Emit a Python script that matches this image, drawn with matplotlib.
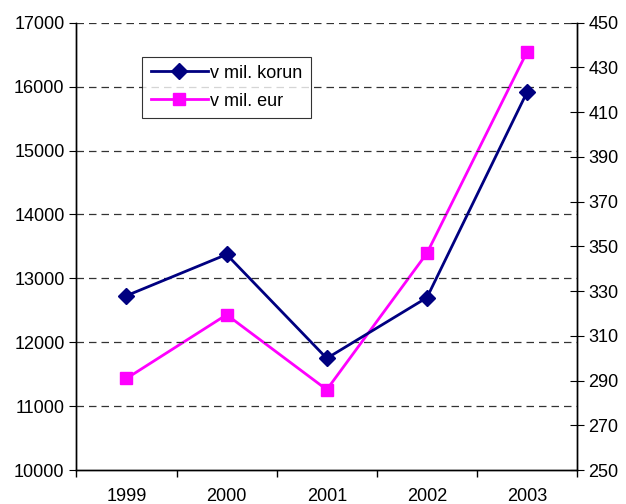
import matplotlib.pyplot as plt
from matplotlib.ticker import MultipleLocator, FixedLocator, NullFormatter

plt.rcParams['font.family'] = ['Liberation Sans', 'DejaVu Sans']

years = ['1999', '2000', '2001', '2002', '2003']
korun = [12730, 13375, 11750, 12700, 15915]
eur = [291, 319.5, 286, 347, 437]
eur_ticks = list(range(250, 451, 20))

fig = plt.figure(figsize=(6.26, 5.04), dpi=100)
ax = fig.add_axes([0.122, 0.067, 0.800, 0.888])
ax2 = ax.twinx()

x = list(range(len(years)))

l1, = ax.plot(x, korun, color='#000080', lw=2, marker='D', markersize=8,
              label='v mil. korun', zorder=4)
l2, = ax2.plot(x, eur, color='#FF00FF', lw=2, marker='s', markersize=9,
               label='v mil. eur', zorder=3)

ax.set_xlim(-0.5, len(years) - 0.5)
ax.set_ylim(10000, 17000)
ax2.set_ylim(250, 450)

ax.yaxis.set_major_locator(MultipleLocator(1000))
ax2.yaxis.set_major_locator(FixedLocator(eur_ticks))

# category ticks between years, labels in the middle
ax.xaxis.set_major_locator(FixedLocator([i - 0.5 for i in range(len(years) + 1)]))
ax.xaxis.set_major_formatter(NullFormatter())
ax.xaxis.set_minor_locator(FixedLocator(x))
ax.set_xticklabels(years, minor=True)
ax.tick_params(axis='x', which='minor', length=0, pad=13, labelsize=13)
ax.tick_params(axis='x', which='major', direction='out', length=5, width=1)
ax.tick_params(axis='y', direction='out', length=5, labelsize=13)
ax2.tick_params(axis='y', direction='inout', length=10, labelsize=13, pad=3)

for yv in range(11000, 17001, 1000):
    ax.axhline(yv, color='#333333', lw=0.9, ls=(0, (6, 4)), zorder=1)

for a in (ax, ax2):
    a.spines['top'].set_visible(False)
    for s in ('left', 'right', 'bottom'):
        a.spines[s].set_color('black')
        a.spines[s].set_linewidth(1)

ax.set_zorder(ax2.get_zorder() + 1)
ax.patch.set_visible(False)

leg = ax.legend(handles=[l1, l2], loc='upper left', bbox_to_anchor=(0.132, 0.924),
                fontsize=13, frameon=True, fancybox=False, edgecolor='black',
                handlelength=3.2, handletextpad=0.1, borderpad=0.45,
                labelspacing=0.6, borderaxespad=0)
leg.get_frame().set_linewidth(0.8)

fig.savefig('out.png', dpi=100)
